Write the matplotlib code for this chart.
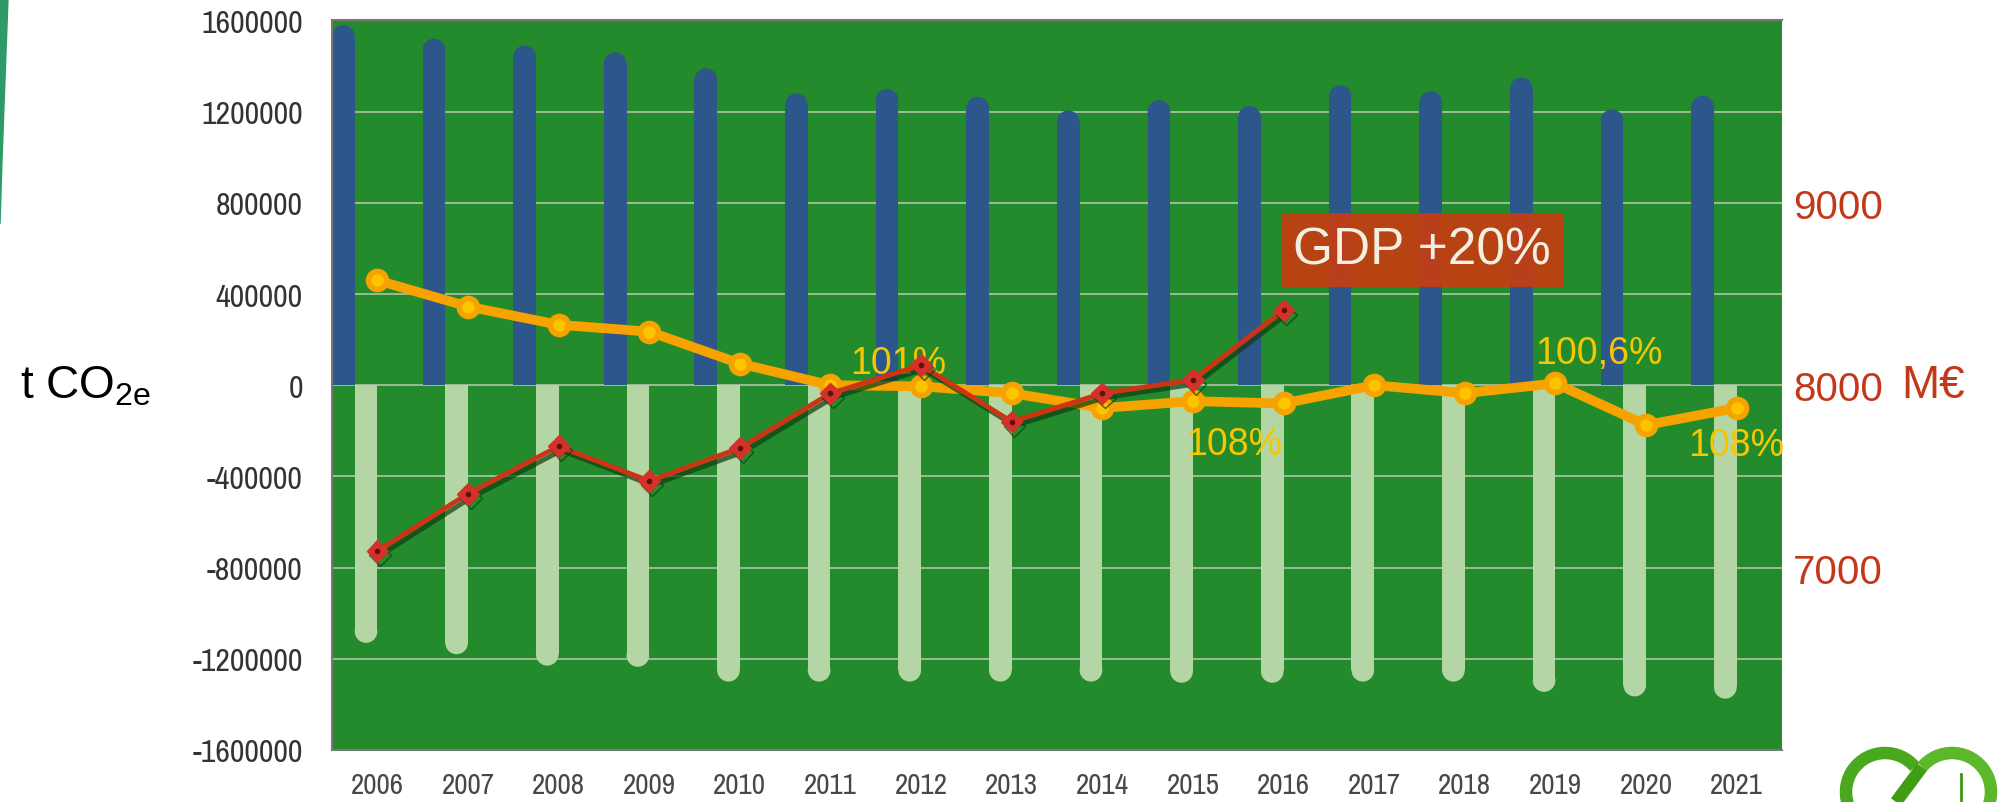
import numpy as np
import matplotlib
matplotlib.use("Agg")
import matplotlib.pyplot as plt
from matplotlib import font_manager
from matplotlib.font_manager import FontProperties
from matplotlib.patches import Ellipse, Rectangle, Polygon, Arc
from matplotlib import patheffects as pe
from matplotlib.transforms import blended_transform_factory

plt.rcParams['font.family'] = ['Liberation Sans', 'DejaVu Sans']
plt.rcParams['axes.unicode_minus'] = False
plt.rcParams['mathtext.fontset'] = 'custom'
plt.rcParams['mathtext.rm'] = 'Liberation Sans'

# the tick labels in the picture are squeezed: look for a condensed face
cond = [f for f in font_manager.fontManager.ttflist
        if f.stretch in ('condensed', 'semi-condensed', 'extra-condensed')
        and f.style == 'normal' and f.weight in (400, 'normal', 'regular')
        and f.fname.lower().endswith(('.ttf', '.otf'))]
cond.sort(key=lambda f: ('Noto Sans' not in f.name, f.name))
if cond:
    tick_font = FontProperties(fname=cond[0].fname)
    ysize, xsize = 23, 21
else:
    tick_font = FontProperties(family='Liberation Sans')
    ysize, xsize = 22, 19

# data
years = [str(y) for y in range(2006, 2022)]
emissions = [1580000, 1520000, 1490000, 1460000, 1390000, 1280000, 1300000, 1265000,
             1205000, 1250000, 1225000, 1315000, 1290000, 1350000, 1210000, 1270000]
sinks = [-1130000, -1180000, -1230000, -1235000, -1300000, -1300000, -1300000, -1300000,
         -1300000, -1305000, -1305000, -1300000, -1300000, -1345000, -1365000, -1375000]
intensity = [460000, 345000, 265000, 235000, 95000, 0, -5000, -35000,
             -100000, -70000, -80000, 0, -35000, 8000, -175000, -100000]
gdp_years = years[:11]
gdp = [7090, 7405, 7665, 7475, 7655, 7955, 8110, 7800, 7955, 8030, 8410]

left_ticks = list(range(-1600000, 1600001, 400000))
right_ticks = [7000, 8000, 9000]

# labels on the orange line
notes = [("101%", 5.75, 99000), ("108%", 9.45, -260000),
         ("100,6%", 13.48, 143000), ("108%", 15.0, -262000)]

bg_green = '#238b2b'
blue = '#2d568b'
light = '#b4d6a4'
orange = '#f6a300'
yellow = '#ffc400'
red = '#cc3414'
txt_yellow = '#f7c600'
axis_red = '#c4381a'

fig = plt.figure(figsize=(20.11, 8.03), dpi=100)
ax = fig.add_axes([0.1651, 0.0648, 0.7210, 0.9085])
ax.set_facecolor(bg_green)

n = len(years)
x = np.arange(n)
ax.set_xlim(-0.5, n - 0.5)
ax.set_ylim(-1600000, 1600000)

# radius of the rounded bar ends, in data units
fw, fh = fig.get_size_inches() * fig.dpi
pos = ax.get_position()
px_x = pos.width * fw / n
px_y = pos.height * fh / 3200000
bw = 0.25
ry = (bw / 2) * px_x / px_y


def round_bar(ax, xc, v, color):
    s = 1 if v > 0 else -1
    body = max(abs(v) - ry, 0)
    ax.add_patch(Rectangle((xc - bw / 2, 0), bw, s * body, color=color, lw=0, zorder=2))
    ax.add_patch(Ellipse((xc, s * body), bw, 2 * ry, color=color, lw=0, zorder=2))


for i in range(n):
    round_bar(ax, x[i] - 0.375, emissions[i], blue)
    round_bar(ax, x[i] - 0.125, sinks[i], light)

ax.set_yticks(left_ticks)
ax.set_yticklabels([str(t) for t in left_ticks], fontproperties=tick_font,
                   fontsize=ysize, color='#333333')
ax.set_xticks(x)
ax.set_xticklabels(years, fontproperties=tick_font, fontsize=xsize, color='#484848')
ax.grid(axis='y', color='#9dbb97', lw=1.4)
ax.grid(axis='x', visible=False)
ax.set_axisbelow(True)
ax.tick_params(axis='y', length=0, pad=21)
ax.tick_params(axis='x', length=0, pad=15)
for s in ['top', 'left', 'bottom']:
    ax.spines[s].set_color('#777777')
    ax.spines[s].set_linewidth(1.5)
ax.spines['right'].set_visible(False)

ax.plot(x, intensity, color=orange, lw=7, marker='o', ms=13, mfc=yellow,
        mec=orange, mew=4, zorder=3, solid_joinstyle='round')

for t, xx, yy in notes:
    ax.text(xx, yy, t, color=txt_yellow, fontsize=27, ha='center', va='center',
            zorder=3.5, clip_on=False)

ax.text(20 / 2011, 0, 't CO$_\\mathregular{2e}$', fontsize=33, color='black',
        ha='left', va='center',
        transform=blended_transform_factory(fig.transFigure, ax.transData))

ax2 = ax.twinx()
ax2.set_ylim(6000, 10000)
ax2.set_yticks(right_ticks)
ax2.set_yticklabels([str(t) for t in right_ticks])
ax2.tick_params(axis='y', length=0, pad=8, labelsize=29, labelcolor=axis_red)
for s in ax2.spines.values():
    s.set_visible(False)

shadow = [pe.SimpleLineShadow(offset=(2, -3), shadow_color='#0b3d12', alpha=0.7), pe.Normal()]
ax2.plot(x[:len(gdp)], gdp, color=red, lw=3.5, marker='D', ms=11, mfc='#d5302a',
         mec='#d5302a', zorder=4, path_effects=shadow)
ax2.plot(x[:len(gdp)], gdp, ls='none', marker='o', ms=3, color='#5a150a', zorder=4.1)

ax2.text(11.53, 8000 + 594500 / 800, 'GDP +20%', fontsize=37, color='#f4efe0',
         ha='center', va='center', zorder=5,
         bbox=dict(boxstyle='square,pad=0.24', fc='#c83c10', ec='none', alpha=0.9))

ax2.text(1.082, 8000, 'M€', fontsize=33, color=axis_red, ha='left', va='center',
         transform=blended_transform_factory(ax2.transAxes, ax2.transData))

# decorations from the slide
fig.patches.append(Polygon([[0, 1], [8 / 2011, 1], [2 / 2011, 0.80], [0, 1 - 225 / 803]],
                           closed=True, transform=fig.transFigure, color='#2e9a68'))

logo = fig.add_axes([1830 / 2011, 0, 181 / 2011, 60 / 803])
logo.set_xlim(0, 181)
logo.set_ylim(0, 60)
logo.axis('off')
logo.add_patch(Arc((55, 10), 78, 78, theta1=40, theta2=250, color='#4aa81e', lw=9))
logo.add_patch(Arc((122, 10), 78, 78, theta1=-60, theta2=140, color='#5cb82a', lw=9))
logo.plot([92, 66], [35, 0], color='#3f9e14', lw=9, solid_capstyle='butt')
logo.plot([131, 131], [0, 28], color='#3a9a10', lw=2)

fig.savefig('out.png', dpi=100)
